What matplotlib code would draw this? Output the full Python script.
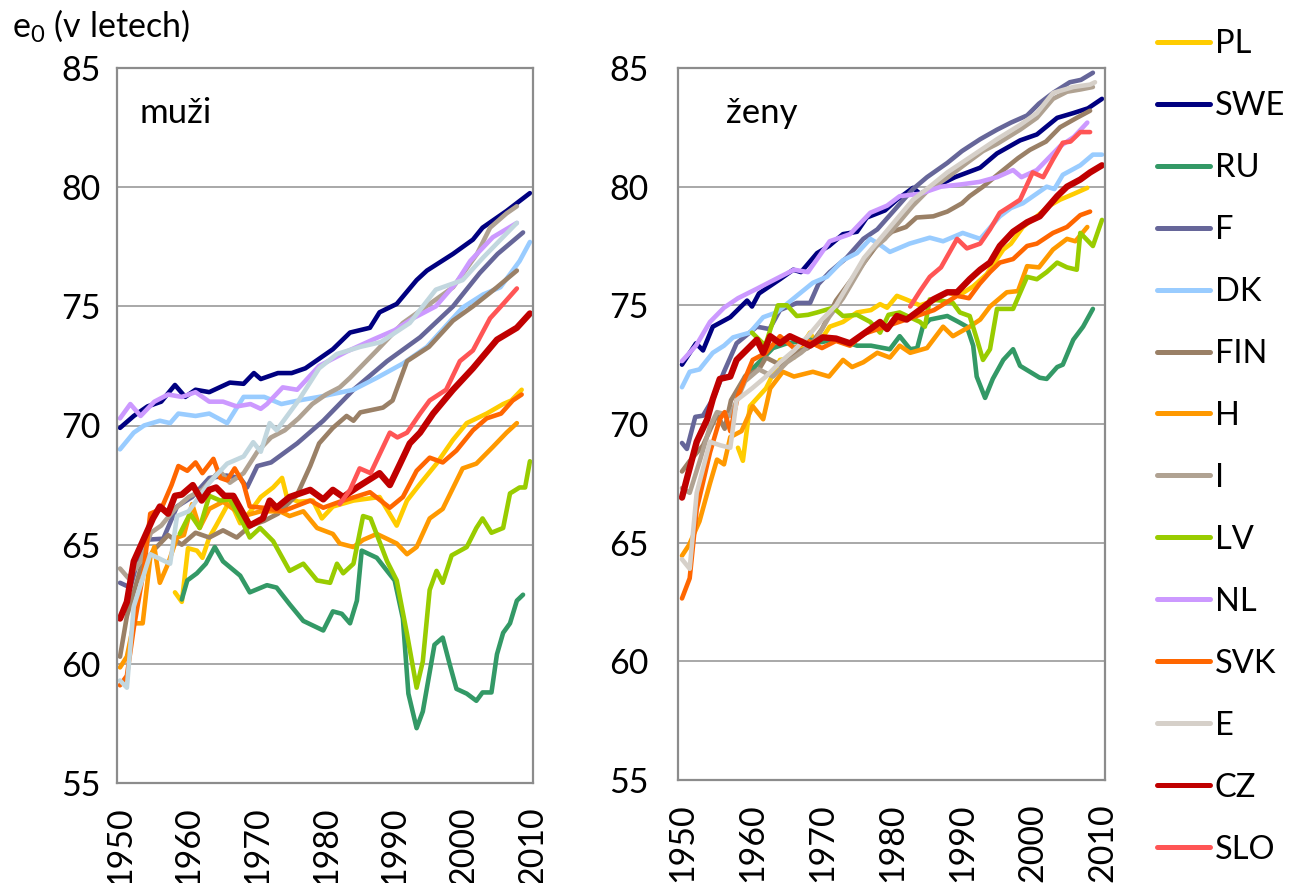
import matplotlib.pyplot as plt

plt.rcParams['font.family'] = ['Lato', 'DejaVu Sans']
plt.rcParams['mathtext.fontset'] = 'custom'
plt.rcParams['mathtext.rm'] = 'Lato'

countries = ['PL', 'SWE', 'RU', 'F', 'DK', 'FIN', 'H', 'I', 'LV', 'NL', 'SVK', 'E', 'CZ', 'SLO']
years_ticks = [1950, 1960, 1970, 1980, 1990, 2000, 2010]
e0_ticks = [55, 60, 65, 70, 75, 80, 85]

# ---- muzi (men): (year, e0)
muzi_PL = [(1958, 63.0), (1959, 62.6), (1959.9, 64.85), (1961.2, 64.75), (1962, 64.45), (1963, 65.3),
           (1964, 65.8), (1966, 66.85), (1967.5, 65.9), (1969, 66.4), (1970.5, 67.0), (1972.3, 67.4),
           (1973.6, 67.8), (1974.3, 67.0), (1976, 66.8), (1978.1, 66.85), (1979.4, 66.1), (1981, 66.6),
           (1984, 66.85), (1987.8, 67.0), (1990.3, 65.8), (1991.8, 66.85), (1993.7, 67.55), (1996.1, 68.4),
           (1998.5, 69.4), (2000.5, 70.1), (2003.4, 70.5), (2005.8, 70.9), (2007, 71.05), (2008.5, 71.5)]
muzi_SWE = [(1950, 69.9), (1952, 70.4), (1954, 70.8), (1956, 71.0), (1958, 71.7), (1959.5, 71.2),
            (1961, 71.5), (1963, 71.4), (1966, 71.8), (1968, 71.75), (1969.5, 72.2), (1970.5, 71.95),
            (1973, 72.2), (1975, 72.2), (1977, 72.4), (1979, 72.8), (1981, 73.2), (1983.5, 73.9),
            (1986.4, 74.1), (1987.8, 74.75), (1990.3, 75.1), (1993.2, 76.1), (1994.7, 76.5),
            (1998.5, 77.2), (2001.4, 77.8), (2002.8, 78.3), (2006.3, 79.0), (2009.7, 79.75)]
muzi_RU = [(1959, 62.7), (1959.8, 63.5), (1961.2, 63.8), (1962.5, 64.2), (1963.8, 64.9), (1965, 64.3),
           (1967.5, 63.7), (1968.9, 63.0), (1971.4, 63.3), (1972.8, 63.2), (1974.7, 62.5), (1976.7, 61.8),
           (1979.6, 61.4), (1981, 62.2), (1982.3, 62.1), (1983.5, 61.7), (1984.5, 62.65), (1985.2, 64.75),
           (1987.4, 64.45), (1988.9, 63.9), (1990, 63.5), (1991.2, 61.9), (1992, 58.75), (1993.2, 57.3),
           (1994.1, 58.0), (1995.8, 60.8), (1997, 61.1), (1998, 60.0), (1999, 58.95), (2000.5, 58.75),
           (2001.9, 58.45), (2002.8, 58.8), (2004.1, 58.8), (2004.9, 60.4), (2005.8, 61.3),
           (2006.8, 61.7), (2007.8, 62.65), (2008.7, 62.9)]
muzi_F = [(1950, 63.4), (1951.5, 63.2), (1953.4, 65.2), (1956.3, 65.25), (1958.3, 66.6), (1960.5, 67.0),
          (1963, 67.8), (1965.5, 67.9), (1967.5, 67.8), (1968.5, 67.4), (1970, 68.3), (1972, 68.45),
          (1975.8, 69.25), (1979.6, 70.2), (1984, 71.5), (1988.9, 72.7), (1993.7, 73.7), (1998.5, 75.0),
          (2002.4, 76.4), (2005, 77.2), (2008.7, 78.1)]
muzi_DK = [(1950, 69.0), (1952, 69.7), (1953.5, 70.0), (1955.8, 70.2), (1957.3, 70.1), (1958.5, 70.5),
           (1961, 70.4), (1963, 70.5), (1965.6, 70.1), (1968, 71.2), (1971, 71.2), (1973.5, 70.9),
           (1976, 71.05), (1979, 71.2), (1984, 71.5), (1987.4, 72.0), (1991.2, 72.6), (1994.7, 73.3),
           (1999.9, 74.95), (2002.9, 75.5), (2005.4, 75.8), (2008.2, 76.9), (2009.7, 77.7)]
muzi_FIN = [(1950, 60.3), (1951, 62.0), (1953, 64.0), (1955, 64.8), (1957, 65.4), (1959, 65.0),
            (1961, 65.5), (1963, 65.3), (1965, 65.6), (1967, 65.3), (1969, 65.8), (1971, 66.0),
            (1973, 66.3), (1975.8, 67.1), (1977.7, 68.3), (1979, 69.25), (1981, 69.9), (1983, 70.4),
            (1984, 70.2), (1985, 70.55), (1988.3, 70.75), (1989.7, 71.05), (1991.8, 72.7), (1995, 73.3),
            (1998.5, 74.4), (2001.4, 75.0), (2004.9, 75.8), (2007.8, 76.5)]
muzi_H = [(1950, 59.85), (1951, 60.3), (1952, 61.7), (1953.3, 61.7), (1954.4, 64.45), (1955, 64.9),
          (1955.8, 63.4), (1957, 64.2), (1958.3, 65.3), (1959.3, 65.4), (1960.5, 66.7), (1961.6, 65.7),
          (1963, 66.5), (1965, 66.8), (1968, 66.2), (1970.5, 66.4), (1973.3, 66.4), (1974.7, 66.2),
          (1976.7, 66.4), (1978.7, 65.7), (1981, 65.45), (1982, 65.05), (1984, 64.9), (1985.4, 65.2),
          (1987.4, 65.45), (1990.3, 65.05), (1991.8, 64.6), (1993.2, 64.9), (1995.1, 66.1),
          (1997, 66.5), (1999.9, 68.2), (2001.9, 68.4), (2004.3, 69.1), (2006.3, 69.7), (2007.8, 70.1)]
muzi_I = [(1950, 64.0), (1951.2, 63.6), (1953, 64.3), (1954.5, 65.5), (1956, 65.8), (1958, 66.5),
          (1960, 67.0), (1962, 67.3), (1964.5, 68.1), (1966, 67.6), (1968, 68.0), (1970, 68.9),
          (1972, 69.5), (1974, 69.8), (1976, 70.3), (1978, 70.9), (1980, 71.3), (1982, 71.6),
          (1983.5, 72.0), (1987.4, 73.15), (1991.2, 74.3), (1995.1, 75.1), (1998.5, 75.8), (2002, 77.2),
          (2003.9, 78.3), (2006.3, 78.9), (2007.8, 79.2)]
muzi_LV = [(1958.7, 65.45), (1960.2, 66.3), (1961.6, 65.7), (1963, 67.05), (1964.6, 66.85), (1966, 66.9),
           (1968, 65.85), (1968.9, 65.3), (1970.4, 65.7), (1972.3, 65.15), (1974.7, 63.9), (1976.7, 64.2),
           (1978.7, 63.5), (1980.6, 63.4), (1981.6, 64.2), (1982.5, 63.8), (1984, 64.2), (1985.4, 66.2),
           (1986.5, 66.1), (1988.9, 64.3), (1990.3, 63.5), (1991.8, 61.25), (1993.2, 59.0),
           (1994.1, 60.1), (1995.1, 63.1), (1996.1, 63.9), (1997, 63.4), (1998.3, 64.55), (2000.5, 64.9),
           (2001.9, 65.7), (2002.8, 66.1), (2004.1, 65.5), (2005.8, 65.7), (2006.8, 67.15),
           (2008.2, 67.4), (2009, 67.4), (2009.7, 68.5)]
muzi_NL = [(1950, 70.3), (1951.5, 70.9), (1953, 70.4), (1955, 71.0), (1957, 71.3), (1959, 71.2),
           (1961, 71.4), (1963, 71.0), (1965, 71.0), (1967, 70.8), (1969, 70.9), (1970.5, 70.7),
           (1971.4, 70.9), (1973.7, 71.6), (1975.8, 71.5), (1979, 72.5), (1983, 73.1), (1986.8, 73.6),
           (1990, 74.0), (1992.7, 74.5), (1996, 75.0), (1999, 76.0), (2001, 76.9), (2004.3, 77.9),
           (2007.8, 78.5)]
muzi_SVK = [(1950, 59.1), (1951, 59.5), (1952, 61.5), (1953.5, 64.0), (1954.4, 66.3), (1956, 66.5),
            (1957.5, 67.5), (1958.5, 68.3), (1959.8, 68.1), (1961, 68.45), (1962, 68.0), (1963.6, 68.6),
            (1964.6, 67.8), (1965.6, 67.7), (1966.7, 68.2), (1968, 67.55), (1968.9, 66.6), (1970.8, 66.55),
            (1973.7, 66.4), (1977.7, 66.85), (1979.6, 66.55), (1982, 66.8), (1986.4, 67.2), (1989.3, 66.55),
            (1991.2, 67.0), (1993.2, 68.1), (1995.1, 68.65), (1997, 68.45), (1999, 68.95), (2001.4, 69.8),
            (2003.4, 70.3), (2005.5, 70.5), (2007.2, 71.05), (2008.5, 71.3)]
muzi_E = [(1950, 59.3), (1951, 59.0), (1952, 62.4), (1954.4, 64.6), (1957.3, 64.2), (1958.3, 66.2),
          (1960, 66.4), (1963, 67.6), (1965.6, 68.4), (1968, 68.7), (1969.4, 69.3), (1970.5, 68.9),
          (1971.8, 70.1), (1972.8, 69.8), (1976, 71.05), (1979, 72.4), (1981.6, 73.0), (1985, 73.3),
          (1988, 73.5), (1992.2, 74.3), (1996, 75.7), (1999.9, 76.1), (2002.9, 77.05), (2007.8, 78.5)]
muzi_CZ = [(1950, 61.9), (1951, 62.6), (1952, 64.3), (1953.4, 65.2), (1954.8, 66.1), (1955.8, 66.6),
           (1957, 66.3), (1958, 67.05), (1959, 67.1), (1960.6, 67.5), (1961.9, 66.85), (1963, 67.3),
           (1964, 67.4), (1965.2, 67.05), (1966.5, 67.05), (1968.9, 65.8), (1970.8, 66.1), (1971.8, 66.85),
           (1972.8, 66.55), (1974.7, 67.0), (1977.7, 67.3), (1979.6, 66.9), (1981, 67.3), (1982.5, 67.0),
           (1984.5, 67.4), (1987.8, 68.0), (1989.3, 67.5), (1990.8, 68.4), (1992.2, 69.25),
           (1993.7, 69.7), (1995.6, 70.5), (1998.5, 71.5), (2001.4, 72.4), (2004.9, 73.6),
           (2007.8, 74.1), (2009.7, 74.7)]
muzi_SLO = [(1982, 66.7), (1983.5, 67.3), (1984.9, 68.2), (1986.5, 68.0), (1989.3, 69.7), (1990.4, 69.5),
            (1991.8, 69.7), (1993.7, 70.5), (1995.1, 71.05), (1997.5, 71.5), (1999.5, 72.7),
            (2001.4, 73.15), (2003.9, 74.5), (2005.8, 75.1), (2007.8, 75.75)]

# ---- zeny (women)
zeny_PL = [(1958, 69.0), (1958.7, 68.45), (1959.7, 70.75), (1962, 71.5), (1964, 72.7), (1966, 72.8),
           (1968.3, 73.85), (1969.3, 73.3), (1971.1, 74.1), (1973, 74.3), (1975, 74.7), (1977, 74.8),
           (1978.3, 75.05), (1979.3, 74.9), (1980.7, 75.4), (1982, 75.25), (1984, 75.0), (1986, 75.2),
           (1987.9, 75.55), (1989.5, 75.4), (1991.6, 75.8), (1993.5, 76.3), (1995.9, 77.35),
           (1997, 77.6), (1998.7, 78.3), (2000.7, 78.75), (2002.5, 79.2), (2004, 79.45), (2006, 79.7),
           (2007.9, 79.95)]
zeny_SWE = [(1950, 72.5), (1952, 73.4), (1953, 73.1), (1954.4, 74.1), (1956.9, 74.5), (1959.3, 75.2),
            (1960, 74.95), (1961, 75.5), (1964, 76.1), (1965.9, 76.5), (1967, 76.4), (1969.3, 77.2),
            (1971, 77.5), (1973, 78.0), (1975, 78.1), (1976.4, 78.7), (1979, 79.0), (1980.7, 79.45),
            (1983, 79.95), (1984, 79.7), (1986.9, 80.1), (1989, 80.4), (1992.6, 80.8), (1995, 81.4),
            (1998.3, 81.95), (2000.7, 82.2), (2003.6, 82.9), (2005.9, 83.1), (2008, 83.3), (2010, 83.7)]
zeny_RU = [(1959, 72.0), (1961, 72.6), (1963, 73.2), (1965, 73.4), (1968.3, 73.55), (1970, 73.45),
           (1972, 73.6), (1975, 73.3), (1977, 73.3), (1979.7, 73.15), (1981.1, 73.7), (1982.6, 73.15),
           (1983.6, 73.2), (1984.4, 74.1), (1985.4, 74.4), (1987.9, 74.55), (1989.5, 74.3),
           (1990.7, 74.1), (1991.6, 73.3), (1992.1, 72.0), (1993.3, 71.1), (1994.4, 71.9),
           (1995.9, 72.7), (1997.3, 73.15), (1998.3, 72.45), (1999.7, 72.2), (2001.1, 71.95),
           (2002.1, 71.9), (2003.6, 72.4), (2004.4, 72.5), (2005.9, 73.55), (2007.3, 74.1),
           (2008.7, 74.85)]
zeny_F = [(1950, 69.2), (1950.7, 68.95), (1951.9, 70.3), (1953, 70.35), (1954.5, 71.1), (1956, 72.2),
          (1957.8, 73.4), (1960.7, 74.1), (1962.5, 74.0), (1964, 74.8), (1966.4, 75.1), (1968.3, 75.1),
          (1969.5, 75.9), (1971.1, 76.4), (1973.5, 77.0), (1975.9, 77.8), (1977.9, 78.2), (1980, 78.9),
          (1983, 79.9), (1985, 80.4), (1987.9, 81.0), (1990, 81.5), (1992.6, 82.0), (1995, 82.4),
          (1997, 82.7), (1999.3, 83.0), (2001, 83.5), (2003, 83.95), (2005.4, 84.4), (2007, 84.5),
          (2008.7, 84.8)]
zeny_DK = [(1950, 71.55), (1951.1, 72.2), (1952.5, 72.3), (1954.4, 73.0), (1956, 73.3), (1957.3, 73.65),
           (1959.7, 73.85), (1961.6, 74.5), (1963.5, 74.7), (1966.4, 75.4), (1968.7, 75.95),
           (1970.7, 76.2), (1973, 76.9), (1975, 77.2), (1976.9, 77.8), (1978.3, 77.55), (1979.7, 77.25),
           (1982.5, 77.6), (1985.4, 77.85), (1987.3, 77.7), (1990.1, 78.05), (1992.6, 77.8),
           (1993.5, 78.1), (1995.4, 78.75), (1997, 79.1), (1998.7, 79.3), (2002.1, 80.0),
           (2003.2, 79.9), (2004.4, 80.5), (2006.9, 80.9), (2008.7, 81.35), (2010, 81.35)]
zeny_FIN = [(1950, 68.0), (1951, 68.4), (1953, 69.1), (1955, 70.4), (1956.1, 69.8), (1957, 71.0),
            (1959, 72.0), (1961, 72.3), (1962, 72.8), (1964, 72.5), (1966, 73.0), (1968, 73.2),
            (1970, 74.0), (1972, 75.2), (1974, 76.0), (1976, 76.8), (1978, 77.6), (1980, 78.1),
            (1982, 78.3), (1983.5, 78.7), (1985.9, 78.75), (1987.9, 78.95), (1990, 79.3), (1991.1, 79.6),
            (1993, 80.0), (1995.9, 80.7), (1998, 81.2), (1999.7, 81.55), (2002, 81.9), (2004, 82.5),
            (2006.4, 82.9), (2008.3, 83.2)]
zeny_H = [(1950, 64.45), (1951, 64.9), (1952.5, 65.9), (1954, 67.5), (1955, 68.5), (1956, 68.3),
          (1956.9, 69.45), (1958.5, 69.7), (1960.1, 70.75), (1961.6, 70.2), (1962.6, 71.5), (1964.4, 72.2),
          (1966, 72.0), (1968.7, 72.2), (1971, 72.0), (1973, 72.7), (1974.3, 72.4), (1975.9, 72.6),
          (1977.9, 73.0), (1979.7, 72.8), (1981.1, 73.3), (1982.6, 73.0), (1985, 73.2), (1987.3, 74.1),
          (1988.7, 73.7), (1991.1, 74.1), (1992.6, 74.4), (1994, 74.95), (1996.4, 75.55),
          (1998, 75.6), (1999.3, 76.65), (2001, 76.6), (2003, 77.35), (2005, 77.8), (2006.2, 77.7),
          (2007.9, 78.3)]
zeny_I = [(1950, 67.3), (1951.1, 67.1), (1952.6, 68.5), (1954, 69.9), (1955, 70.5), (1956.9, 70.35),
          (1959, 71.8), (1961, 72.3), (1963, 72.0), (1965, 72.6), (1967, 73.0), (1969, 73.5),
          (1971, 74.5), (1973, 75.3), (1975, 76.3), (1977, 77.3), (1979, 77.8), (1981, 78.5),
          (1983, 79.2), (1985, 79.8), (1988, 80.4), (1990.7, 81.0), (1993, 81.5), (1995, 81.8),
          (1998.3, 82.4), (2000.7, 82.9), (2003, 83.7), (2005, 84.0), (2007, 84.1), (2008.7, 84.2)]
zeny_LV = [(1960, 73.85), (1961.9, 73.3), (1963.7, 75.0), (1965, 75.0), (1966.4, 74.55), (1968, 74.6),
           (1969.3, 74.7), (1971.6, 74.9), (1973, 74.55), (1975, 74.6), (1976.9, 74.3), (1978.3, 73.85),
           (1979.5, 74.6), (1981.1, 74.7), (1984, 74.3), (1984.7, 74.1), (1985.4, 75.25), (1987, 75.2),
           (1988.7, 75.1), (1989.7, 74.7), (1991.1, 74.55), (1992.1, 73.6), (1993, 72.7), (1994, 73.15),
           (1995, 74.85), (1997.3, 74.85), (1999.3, 76.2), (2000.7, 76.1), (2002.1, 76.4),
           (2003.6, 76.8), (2005, 76.6), (2006.4, 76.5), (2006.9, 78.05), (2008.7, 77.5), (2010, 78.6)]
zeny_NL = [(1950, 72.65), (1952, 73.3), (1954, 74.3), (1956, 74.9), (1958, 75.3), (1960.7, 75.7),
           (1964, 76.2), (1966, 76.5), (1968, 76.4), (1971.1, 77.7), (1974, 78.0), (1976.9, 78.9),
           (1979.3, 79.2), (1981.1, 79.6), (1984, 79.7), (1987, 80.0), (1990, 80.1), (1992.5, 80.2),
           (1995, 80.4), (1997.3, 80.7), (1998.5, 80.4), (2000.7, 80.7), (2004, 81.7), (2006, 82.1),
           (2007.9, 82.7)]
zeny_SVK = [(1950, 62.65), (1951.1, 63.5), (1952.1, 66.4), (1954, 68.8), (1955.4, 70.2), (1956.1, 70.5),
            (1956.9, 69.7), (1958, 71.2), (1960.1, 72.7), (1962, 73.0), (1964, 73.7), (1966, 73.2),
            (1968, 73.5), (1970, 73.2), (1972, 73.5), (1974, 73.3), (1976, 73.8), (1978, 74.0),
            (1980, 74.2), (1982, 74.4), (1984, 74.6), (1986, 74.8), (1989.3, 75.4), (1991, 75.3),
            (1992.5, 75.9), (1994, 76.4), (1995.4, 76.8), (1997.3, 76.95), (1999.3, 77.5),
            (2000.7, 77.6), (2003, 78.05), (2005, 78.3), (2006.9, 78.8), (2008.3, 78.95)]
zeny_E = [(1950, 64.3), (1951.1, 63.9), (1952.1, 67.1), (1954, 69.25), (1955.5, 69.1), (1956.9, 69.0),
          (1957.8, 71.0), (1960, 71.5), (1962, 72.0), (1964, 72.6), (1966, 73.1), (1968, 73.7),
          (1970, 74.4), (1972, 75.0), (1974, 76.0), (1976, 77.0), (1978.3, 77.8), (1981, 78.75),
          (1983, 79.45), (1985.4, 80.0), (1987.9, 80.6), (1990.7, 81.15), (1995, 82.0), (1998.3, 82.6),
          (2000.7, 83.1), (2003, 83.95), (2005.9, 84.2), (2008.3, 84.3), (2009, 84.4)]
zeny_CZ = [(1950, 66.9), (1950.7, 67.7), (1952.1, 69.25), (1953.6, 70.2), (1954.4, 71.05), (1955.4, 71.9),
           (1956.9, 72.0), (1957.8, 72.7), (1960.7, 73.55), (1961.6, 73.0), (1962.6, 73.7), (1964, 73.4),
           (1965.4, 73.7), (1968.3, 73.3), (1970.1, 73.65), (1972, 73.6), (1974, 73.4), (1976.9, 74.0),
           (1978.3, 74.3), (1979.3, 74.0), (1980.7, 74.55), (1982.1, 74.4), (1984.4, 74.9),
           (1985.9, 75.25), (1987.9, 75.55), (1989.3, 75.55), (1991.1, 76.1), (1992.6, 76.5),
           (1994, 76.8), (1995.4, 77.5), (1997.3, 78.1), (1999.3, 78.5), (2001.1, 78.75),
           (2003.6, 79.6), (2005, 80.0), (2006.9, 80.3), (2008.3, 80.6), (2010, 80.9)]
zeny_SLO = [(1982.6, 74.95), (1984, 75.6), (1985.4, 76.2), (1987, 76.6), (1989.3, 77.8), (1990.7, 77.4),
            (1992.6, 77.6), (1994, 78.2), (1995.4, 78.9), (1997, 79.2), (1998.3, 79.45), (2000.1, 80.6),
            (2001.6, 80.4), (2003, 81.15), (2004.4, 81.85), (2005.5, 81.9), (2006.9, 82.3),
            (2008.3, 82.3)]

muzi = {'PL': muzi_PL, 'SWE': muzi_SWE, 'RU': muzi_RU, 'F': muzi_F, 'DK': muzi_DK, 'FIN': muzi_FIN,
        'H': muzi_H, 'I': muzi_I, 'LV': muzi_LV, 'NL': muzi_NL, 'SVK': muzi_SVK, 'E': muzi_E,
        'CZ': muzi_CZ, 'SLO': muzi_SLO}
zeny = {'PL': zeny_PL, 'SWE': zeny_SWE, 'RU': zeny_RU, 'F': zeny_F, 'DK': zeny_DK, 'FIN': zeny_FIN,
        'H': zeny_H, 'I': zeny_I, 'LV': zeny_LV, 'NL': zeny_NL, 'SVK': zeny_SVK, 'E': zeny_E,
        'CZ': zeny_CZ, 'SLO': zeny_SLO}

colors = {'PL': '#FFCC00', 'SWE': '#000080', 'RU': '#339966', 'F': '#666699', 'DK': '#99CCFF',
          'FIN': '#9A8066', 'H': '#FF9900', 'I': '#B0A292', 'LV': '#99CC00', 'NL': '#CC99FF',
          'SVK': '#FF6600', 'E': '#D6D0C9', 'CZ': '#C00000', 'SLO': '#FF5555'}
e_men_color = '#C2D7DF'

fig = plt.figure(figsize=(12.96, 8.83), dpi=100)
W, H = 1296, 883
ax1 = fig.add_axes([117 / W, 1 - 783 / H, 416 / W, 715 / H])
ax2 = fig.add_axes([678 / W, 1 - 780 / H, 427 / W, 712 / H])


def draw(ax, data, men):
    handles = []
    for c in countries:
        yrs = [p[0] for p in data[c]]
        vals = [p[1] for p in data[c]]
        col = colors[c]
        if men and c == 'E':
            col = e_men_color
        lw = 4.6 if c == 'CZ' else 3.3
        ln, = ax.plot(yrs, vals, color=col, lw=lw, label=c,
                      solid_joinstyle='round', solid_capstyle='round')
        handles.append(ln)
    ax.set_ylim(55, 85)
    ax.set_yticks(e0_ticks)
    ax.set_xticks(years_ticks)
    ax.set_xticklabels([str(y) for y in years_ticks], rotation=90)
    ax.yaxis.grid(True, color='#999999', lw=1.2)
    ax.set_axisbelow(True)
    for s in ax.spines.values():
        s.set_color('#8C8C8C')
        s.set_linewidth(1.6)
    ax.tick_params(length=0, labelsize=24.5)
    ax.tick_params(axis='x', pad=17)
    return handles


handles = draw(ax1, muzi, True)
draw(ax2, zeny, False)
ax1.set_xlim(1949.56, 2010.15)
ax2.set_xlim(1949.43, 2010.43)
ax1.tick_params(axis='y', pad=12)
ax2.tick_params(axis='y', pad=21)

fig.text(12 / W, 1 - 26 / H, r'e$_0$ (v letech)', fontsize=24.5, va='center', ha='left')
fig.text(139 / W, 1 - 113 / H, 'muži', fontsize=25, va='center', ha='left')
fig.text(726 / W, 1 - 113 / H, 'ženy', fontsize=25, va='center', ha='left')

leg_handles = []
for h in handles:
    leg_handles.append(plt.Line2D([], [], color=colors[h.get_label()], lw=3.6,
                                  solid_capstyle='round', label=h.get_label()))
fig.legend(handles=leg_handles, loc='upper left', bbox_to_anchor=(1157 / W, 1 - 29 / H),
           frameon=False, fontsize=23.5, handlelength=1.62, handletextpad=0.15, labelspacing=0.98,
           borderaxespad=0, borderpad=0)

fig.savefig('out.png', dpi=100)
